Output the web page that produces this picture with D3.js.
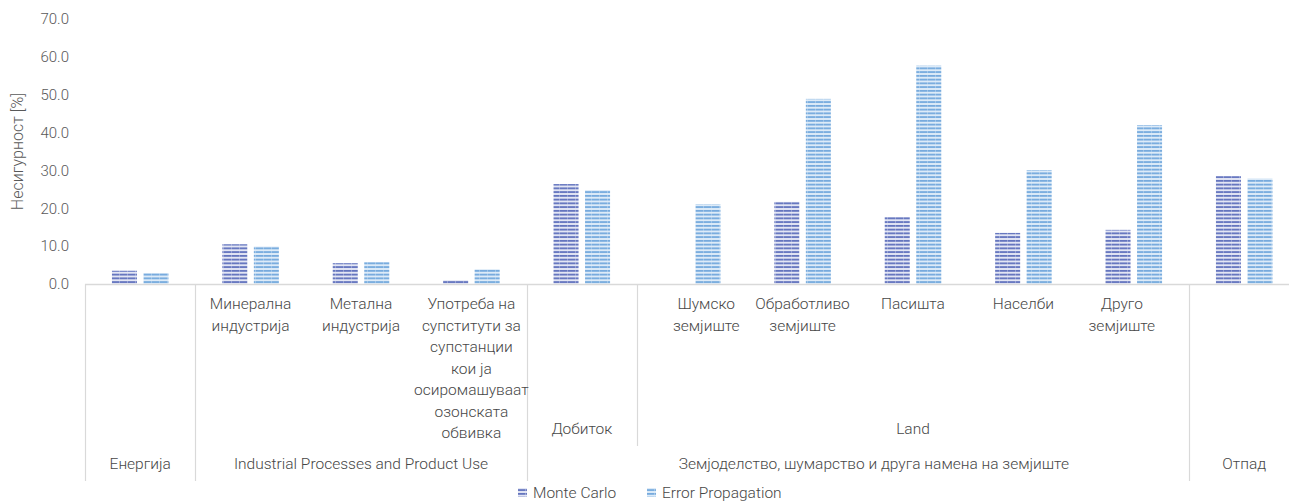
<!DOCTYPE html>
<html>
<head>
<meta charset="utf-8">
<script src="https://cdn.jsdelivr.net/npm/d3@7/dist/d3.min.js"></script>
<style>
  html, body { margin: 0; padding: 0; background: #ffffff; }
  svg { display: block; font-family: Roboto, "Noto Sans", sans-serif; font-weight: 300; }
</style>
</head>
<body>
<svg id="chart" width="1289" height="501"></svg>
<script>
// Category labels (inner level), one per bar pair; "\n" breaks lines
const categories = [
  "",
  "Минерална\nиндустрија",
  "Метална\nиндустрија",
  "Употреба на\nсупститути за\nсупстанции\nкои ја\nосиромашуваат\nозонската\nобвивка",
  "",
  "Шумско\nземјиште",
  "Обработливо\nземјиште",
  "Пасишта",
  "Населби",
  "Друго\nземјиште",
  ""
];

// Middle-level group labels: [label, first index, last index]
const midGroups = [
  ["Добиток", 4, 4],
  ["Land", 5, 9]
];

// Outer-level group labels: [label, first index, last index]
const topGroups = [
  ["Енергија", 0, 0],
  ["Industrial Processes and Product Use", 1, 3],
  ["Земјоделство, шумарство и друга намена на земјиште", 4, 9],
  ["Отпад", 10, 10]
];

const seriesNames = ["Monte Carlo", "Error Propagation"];
const monteCarlo = [3.5, 10.5, 5.5, 1.0, 26.4, 0, 21.7, 17.7, 13.5, 14.3, 28.5];
const errorPropagation = [2.9, 9.9, 5.8, 3.9, 24.8, 21.1, 48.9, 57.7, 30.1, 42.0, 27.9];

const yTicks = [0, 10, 20, 30, 40, 50, 60, 70];

const svg = d3.select("#chart");

const plotLeft = 85, plotRight = 1299.4, plotTop = 19, baseY = 284;
const fontSize = "15.5px";

// small horizontal nudges for a few labels (px)
const innerNudge = { 5: 14, 9: -12 };
const topNudge = { 2: 16 };

const x = d3.scaleBand()
  .domain(d3.range(categories.length))
  .range([plotLeft, plotRight])
  .paddingInner(0.488)
  .paddingOuter(0.244);

const xs = d3.scaleBand()
  .domain(seriesNames)
  .range([0, x.bandwidth()])
  .paddingInner(0.206);

const y = d3.scaleLinear().domain([0, 70]).range([baseY, plotTop]);

// Striped fills
const defs = svg.append("defs");
const fills = {
  "Monte Carlo": { stripe: "#5a6cbb", bg: "#e3e6f4" },
  "Error Propagation": { stripe: "#6fa6dc", bg: "#ddebf8" }
};
seriesNames.forEach((name, i) => {
  const p = defs.append("pattern")
    .attr("id", "pat" + i)
    .attr("patternUnits", "userSpaceOnUse")
    .attr("x", 0).attr("y", baseY)
    .attr("width", 8).attr("height", 3.75);
  p.append("rect").attr("width", 8).attr("height", 3.75).attr("fill", fills[name].bg);
  p.append("rect").attr("y", 1.0).attr("width", 8).attr("height", 1.7).attr("fill", fills[name].stripe);
  p.append("rect").attr("x", 7).attr("y", 1.0).attr("width", 1).attr("height", 1.7)
    .attr("fill", fills[name].bg).attr("opacity", 0.4);
});

// Y axis labels
const yAxis = d3.axisLeft(y).tickValues(yTicks).tickFormat(d3.format(".1f")).tickSize(0).tickPadding(0);
const gy = svg.append("g").attr("transform", `translate(69,0)`).call(yAxis);
gy.select(".domain").remove();
gy.selectAll("text")
  .attr("fill", "#595959")
  .style("font-size", "15px")
  .style("font-family", "Roboto, sans-serif")
  .style("font-weight", "300");

svg.append("text")
  .attr("transform", `translate(23,${(plotTop + baseY) / 2}) rotate(-90)`)
  .attr("text-anchor", "middle")
  .attr("fill", "#595959")
  .style("font-size", "16px")
  .text("Несигурност [%]");

// Bars
const series = [monteCarlo, errorPropagation];
series.forEach((vals, si) => {
  svg.append("g").selectAll("rect")
    .data(vals)
    .join("rect")
    .attr("x", (d, i) => x(i) + xs(seriesNames[si]))
    .attr("width", xs.bandwidth())
    .attr("y", d => y(d))
    .attr("height", d => baseY - y(d))
    .attr("fill", `url(#pat${si})`);
});

// Category axis line and separators
const gridCol = "#d9d9d9";
svg.append("line")
  .attr("x1", plotLeft).attr("x2", plotRight)
  .attr("y1", baseY + 0.5).attr("y2", baseY + 0.5)
  .attr("stroke", gridCol).attr("stroke-width", 1.5);

const step = x.step();
const bandStart = i => plotLeft + i * step;

const sepBottom = 481;
const topEdges = new Set();
topGroups.forEach(g => { topEdges.add(g[1]); topEdges.add(g[2] + 1); });
[...topEdges].forEach(i => {
  const xx = Math.round(bandStart(i)) + 0.5;
  svg.append("line")
    .attr("x1", xx).attr("x2", xx)
    .attr("y1", baseY).attr("y2", sepBottom)
    .attr("stroke", gridCol).attr("stroke-width", 1.2);
});
// Separator between middle groups inside a top group
const midEdge = Math.round(bandStart(5)) + 0.5;
svg.append("line")
  .attr("x1", midEdge).attr("x2", midEdge)
  .attr("y1", baseY).attr("y2", 446)
  .attr("stroke", gridCol).attr("stroke-width", 1.2);

// Inner category labels
const lblCol = "#474747";
const lineH = 21.5;
categories.forEach((c, i) => {
  if (!c) return;
  const t = svg.append("text")
    .attr("text-anchor", "middle")
    .attr("fill", lblCol)
    .style("font-size", fontSize);
  c.split("\n").forEach((ln, k) => {
    t.append("tspan")
      .attr("x", x(i) + x.bandwidth() / 2 + (innerNudge[i] || 0))
      .attr("y", 309 + k * lineH)
      .text(ln);
  });
});

// Middle-level labels
midGroups.forEach(g => {
  svg.append("text")
    .attr("x", (bandStart(g[1]) + bandStart(g[2] + 1)) / 2)
    .attr("y", 433.5)
    .attr("text-anchor", "middle")
    .attr("fill", lblCol)
    .style("font-size", fontSize)
    .text(g[0]);
});

// Outer-level labels
topGroups.forEach((g, gi) => {
  svg.append("text")
    .attr("x", (bandStart(g[1]) + bandStart(g[2] + 1)) / 2 + (topNudge[gi] || 0))
    .attr("y", 468.5)
    .attr("text-anchor", "middle")
    .attr("fill", lblCol)
    .style("font-size", fontSize)
    .text(g[0]);
});

// Legend
const legend = svg.append("g").attr("transform", "translate(518,493)");
const legendX = [0, 129];
seriesNames.forEach((name, i) => {
  const g = legend.append("g").attr("transform", `translate(${legendX[i]},0)`);
  g.append("rect").attr("x", 0).attr("y", -5).attr("width", 9).attr("height", 9)
    .attr("fill", `url(#pat${i})`);
  g.append("text").attr("x", 15).attr("y", 4.5)
    .attr("fill", lblCol)
    .style("font-size", "15.5px")
    .text(name);
});
</script>
</body>
</html>
